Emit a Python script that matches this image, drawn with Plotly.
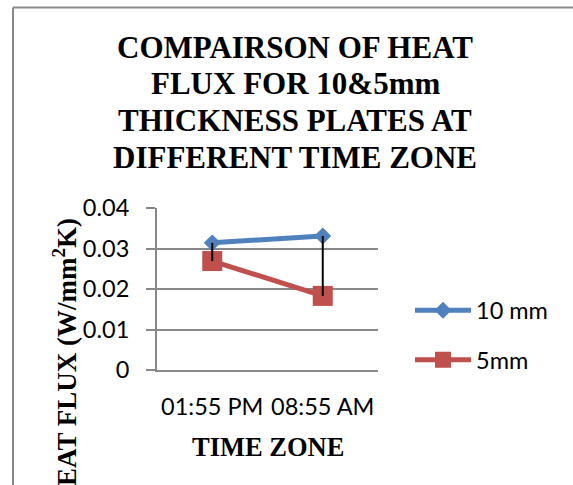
import plotly.graph_objects as go

# ---- data ----
categories = ["01:55 PM", "08:55 AM"]
heat_10mm = [0.0314, 0.0331]
heat_5mm = [0.0269, 0.0183]
series_names = ["10 mm", "5mm"]
y_ticks = [0, 0.01, 0.02, 0.03, 0.04]
y_tick_labels = ["0", "0.01", "0.02", "0.03", "0.04"]
title_lines = ["COMPAIRSON OF HEAT", "FLUX FOR 10&amp;5mm",
               "THICKNESS PLATES AT", "DIFFERENT TIME ZONE"]
x_title = "TIME ZONE"
y_title = "HEAT FLUX (W/mm<sup>2</sup>K)"

W, H = 573, 485
L, R, T, B = 157, 378, 208, 370  # plot area in pixels


def px(x):
    return (x - L) / (R - L)


def py(y):
    return (B - y) / (B - T)


BLUE = "#4F81BD"
RED = "#C0504D"
GRID = "#888888"
SERIF = "Times New Roman"
SANS = "Lato"

fig = go.Figure()
fig.add_trace(go.Scatter(
    x=categories, y=heat_10mm, name=series_names[0], mode="lines+markers",
    line=dict(color=BLUE, width=5),
    marker=dict(symbol="diamond", size=13, color=BLUE),
    legendgroup="a",
))
fig.add_trace(go.Scatter(
    x=categories, y=heat_5mm, name=series_names[1], mode="lines+markers",
    line=dict(color=RED, width=5),
    marker=dict(symbol="square", size=20, color=RED),
    legendgroup="b",
))
# high-low lines
hx, hy = [], []
for c, a, b in zip(categories, heat_10mm, heat_5mm):
    hx += [c, c, None]
    hy += [a, b, None]
fig.add_trace(go.Scatter(
    x=hx, y=hy, mode="lines", line=dict(color="black", width=2),
    showlegend=False, hoverinfo="skip",
))

annotations = []
title_y = [47, 83.5, 120, 157]
for t, yy in zip(title_lines, title_y):
    annotations.append(dict(
        text="<b>%s</b>" % t, x=px(295), y=py(yy), xref="paper", yref="paper",
        xanchor="center", yanchor="middle", showarrow=False,
        font=dict(family=SERIF, size=31, color="black", weight="bold"),
    ))
annotations.append(dict(
    text="<b>%s</b>" % x_title, x=px(267.5), y=py(447), xref="paper", yref="paper",
    xanchor="center", yanchor="middle", showarrow=False,
    font=dict(family=SERIF, size=26.5, color="black", weight="bold"),
))
annotations.append(dict(
    text="<b>%s</b>" % y_title, x=px(65), y=py(363), xref="paper", yref="paper",
    xanchor="center", yanchor="middle", showarrow=False, textangle=-90,
    font=dict(family=SERIF, size=27, color="black", weight="bold"),
))

shapes = [
    dict(type="line", xref="paper", yref="paper", x0=px(13), x1=px(573),
         y0=py(7.5), y1=py(7.5), line=dict(color=GRID, width=2)),
    dict(type="line", xref="paper", yref="paper", x0=px(13), x1=px(13),
         y0=py(7.5), y1=py(485), line=dict(color=GRID, width=2)),
]

fig.update_layout(
    width=W, height=H,
    margin=dict(l=L, r=W - R, t=T, b=H - B, autoexpand=False),
    paper_bgcolor="white", plot_bgcolor="white",
    showlegend=True,
    legend=dict(
        x=px(410), y=py(335.5), xanchor="left", yanchor="middle",
        font=dict(family=SANS, size=23.5, color="black"),
        tracegroupgap=16, itemwidth=56, bgcolor="rgba(0,0,0,0)",
    ),
    annotations=annotations,
    shapes=shapes,
)
fig.update_xaxes(
    type="category", range=[-0.5, 1.5], showgrid=False, zeroline=False,
    showline=True, linecolor=GRID, linewidth=2, ticks="",
    tickfont=dict(family=SANS, size=23.5, color="black"),
    ticklabelstandoff=15, fixedrange=True,
)
fig.update_yaxes(
    range=[0, 0.04], tickvals=y_ticks, ticktext=y_tick_labels,
    showgrid=True, gridcolor=GRID, gridwidth=2, zeroline=False,
    showline=True, linecolor=GRID, linewidth=2,
    ticks="outside", ticklen=9, tickcolor=GRID, tickwidth=2,
    tickfont=dict(family=SANS, size=23.5, color="black"),
    ticklabelstandoff=12, fixedrange=True,
)

fig.write_html("out.html", config={"displayModeBar": False})
